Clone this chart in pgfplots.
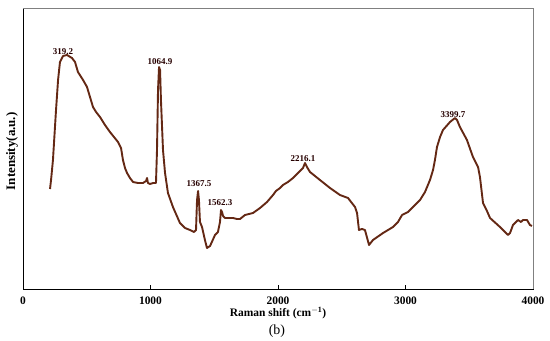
\documentclass[border=0pt]{standalone}
\usepackage{fontspec}
\setmainfont{Liberation Serif}
\usepackage{pgfplots}
\pgfplotsset{compat=1.18}
\usetikzlibrary{calc}
\definecolor{ramanline}{RGB}{100,40,20}
\begin{document}
\begin{tikzpicture}
\begin{axis}[
  name=ax,
  scale only axis,
  width=510bp, height=281bp,
  xmin=0, xmax=4000, ymin=0, ymax=281,
  xtick={0,1000,2000,3000,4000},
  ytick=\empty,
  xtick pos=left,
  tick align=inside,
  major tick length=4bp,
  tick style={black, line width=0.6bp},
  axis line style={black, line width=0.9bp},
  /pgf/number format/assume math mode=true,
  /pgf/number format/1000 sep={},
  xticklabel style={font=\fontsize{11.5}{12}\selectfont\bfseries, yshift=-4bp},
  xlabel={Raman shift (cm$^{\mathbf{-1}}$)},
  xlabel style={font=\fontsize{11.5}{12}\selectfont\bfseries, at={(axis description cs:0.5,0)}, anchor=center, yshift=-24bp},
  ylabel={Intensity(a.u.)},
  ylabel style={font=\fontsize{13}{13}\selectfont\bfseries, at={(axis description cs:0,0.49)}, anchor=center, rotate=0, yshift=11bp},
  clip=false,
]
\addplot[color=ramanline, line width=1.9bp, line join=round] table {
x y
212 100
220 109
235 129
259 179
275 209
290 227
314 233
345 234
384 231
408 227
431 217
471 209
502 202
549 182
573 177
604 172
643 164
682 157
745 147
769 141
784 129
800 121
816 116
839 111
863 107
902 106
941 106
965 108
973 111
980 106
996 105
1020 106
1043 106
1051 139
1059 199
1067 222
1075 219
1082 189
1098 139
1114 116
1137 96
1176 82
1231 66
1271 61
1310 59
1341 57
1357 59
1365 89
1373 98
1380 89
1388 67
1404 62
1427 49
1443 41
1467 43
1506 54
1529 57
1545 67
1553 79
1561 77
1569 73
1584 71
1624 71
1647 71
1678 70
1702 70
1741 74
1804 76
1859 81
1914 87
1961 94
1984 98
2016 101
2039 104
2078 107
2118 111
2157 116
2196 121
2212 126
2227 122
2251 117
2329 109
2408 101
2486 94
2549 91
2604 82
2620 76
2635 59
2659 60
2682 59
2714 44
2745 49
2824 56
2902 62
2941 67
2973 74
3020 77
3059 82
3114 89
3153 97
3192 109
3216 119
3231 129
3247 142
3271 152
3294 159
3349 167
3388 171
3404 169
3427 162
3482 149
3529 132
3569 122
3584 112
3608 86
3639 78
3663 71
3741 62
3804 54
3820 56
3843 64
3882 69
3906 67
3922 69
3953 69
3976 64
3992 63
};
\draw[gray, line width=0.9bp] (rel axis cs:0,1) -- (rel axis cs:1,1) -- (rel axis cs:1,0);
\begin{scope}[every node/.style={font=\fontsize{9}{9}\selectfont\bfseries, text=black!85!red, inner sep=0pt}]
\node at (axis cs:314,237) {319.2};
\node at (axis cs:1075,227) {1064.9};
\node at (axis cs:1380,105) {1367.5};
\node at (axis cs:1545,86) {1562.3};
\node at (axis cs:2196,130) {2216.1};
\node at (axis cs:3373,174) {3399.7};
\end{scope}
\node[font=\fontsize{14}{14}\selectfont] at (axis description cs:0.498,0) [yshift=-42bp] {(b)};
\end{axis}
\path (ax.south west) ++(-23bp,-51bp) rectangle ($(ax.north east)+(17bp,8bp)$);
\end{tikzpicture}
\end{document}
